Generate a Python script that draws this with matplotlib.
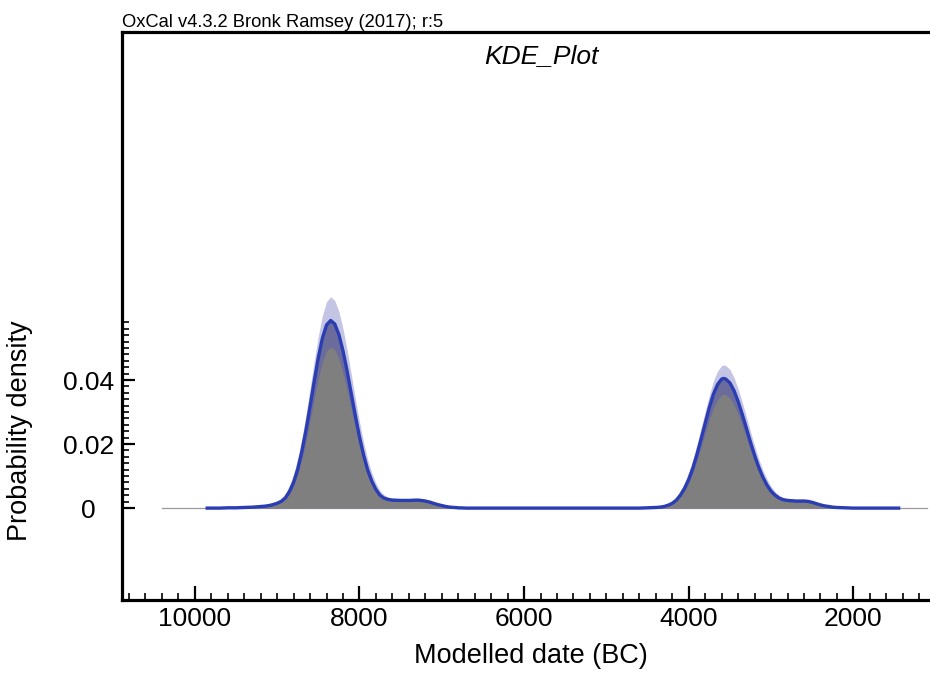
import matplotlib
matplotlib.use("Agg")
import matplotlib.pyplot as plt
from matplotlib.ticker import MultipleLocator, FixedLocator
import numpy as np

plt.rcParams['font.family'] = ['Liberation Sans', 'DejaVu Sans']

# Modelled dates (BC)
DATES = [9850, 9700, 9600, 9500, 9400, 9300, 9200, 9150, 9100, 9050,
         9000, 8950, 8900, 8850, 8800, 8750, 8700, 8650, 8600, 8550,
         8500, 8450, 8400, 8350, 8300, 8250, 8200, 8150, 8100, 8050,
         8000, 7950, 7900, 7850, 7800, 7750, 7700, 7650, 7600, 7500,
         7400, 7300, 7250, 7200, 7150, 7100, 7050, 7000, 6950, 6900,
         6800, 6700,
         4600, 4500, 4400, 4350, 4300, 4250, 4200, 4150, 4100, 4050,
         4000, 3950, 3900, 3850, 3800, 3750, 3700, 3650, 3600, 3575,
         3550, 3500, 3450, 3400, 3350, 3300, 3250, 3200, 3150, 3100,
         3050, 3000, 2950, 2900, 2850, 2800, 2750, 2700, 2650, 2600,
         2550, 2500, 2450, 2400, 2350, 2300, 2250, 2200, 2100, 2000,
         1450]

# mean KDE (blue line)
KDE_MEAN = [0, 0, .0001, .0001, .0002, .0003, .0005, .0006, .0008, .0011,
            .0015, .0021, .0032, .0052, .0081, .0122, .0177, .0243, .0318, .0396,
            .0470, .0531, .0572, .0586, .0575, .0542, .0491, .0428, .0358, .0289,
            .0223, .0166, .0119, .0084, .0058, .0040, .0031, .0027, .0025, .0024,
            .0024, .0025, .0024, .0022, .0019, .0015, .0011, .0008, .0005, .0003,
            .0001, 0,
            0, .0001, .0002, .0003, .0005, .0009, .0015, .0025, .0041, .0062,
            .0090, .0125, .0168, .0216, .0265, .0314, .0356, .0386, .0403, .0405,
            .0403, .0391, .0367, .0333, .0293, .0250, .0206, .0165, .0128, .0097,
            .0072, .0053, .0040, .0031, .0026, .0024, .0023, .0022, .0022, .0022,
            .0021, .0018, .0014, .0010, .0007, .0005, .0003, .0002, .0001, 0,
            0]

# upper edge of the variability band
KDE_UPPER = [0, 0, .0001, .0001, .0002, .0004, .0006, .0008, .0011, .0015,
             .0021, .0031, .0045, .0070, .0106, .0155, .0218, .0292, .0375, .0459,
             .0538, .0602, .0645, .0660, .0648, .0614, .0560, .0494, .0418, .0343,
             .0270, .0206, .0151, .0110, .0078, .0054, .0041, .0034, .0031, .0030,
             .0030, .0031, .0030, .0028, .0024, .0019, .0014, .0010, .0006, .0004,
             .0001, 0,
             0, .0001, .0003, .0005, .0008, .0014, .0021, .0034, .0054, .0079,
             .0111, .0151, .0198, .0250, .0302, .0353, .0397, .0428, .0445, .0447,
             .0445, .0433, .0408, .0373, .0331, .0286, .0239, .0195, .0154, .0119,
             .0091, .0068, .0051, .0040, .0033, .0030, .0029, .0028, .0028, .0028,
             .0027, .0023, .0018, .0013, .0009, .0006, .0004, .0002, .0001, 0,
             0]

# KDE distribution (grey fill)
KDE_DIST = [0, 0, .0001, .0001, .0002, .0003, .0004, .0005, .0007, .0009,
            .0013, .0018, .0028, .0045, .0070, .0105, .0152, .0209, .0273, .0341,
            .0404, .0457, .0492, .0504, .0495, .0466, .0422, .0368, .0308, .0249,
            .0192, .0143, .0102, .0072, .0050, .0034, .0027, .0023, .0021, .0021,
            .0021, .0022, .0021, .0019, .0016, .0013, .0009, .0007, .0004, .0003,
            .0001, 0,
            0, .0001, .0002, .0003, .0004, .0008, .0013, .0022, .0036, .0054,
            .0079, .0110, .0148, .0190, .0233, .0276, .0313, .0339, .0354, .0356,
            .0354, .0344, .0323, .0293, .0258, .0220, .0181, .0145, .0113, .0085,
            .0063, .0047, .0035, .0027, .0023, .0021, .0020, .0019, .0019, .0019,
            .0018, .0016, .0012, .0009, .0006, .0004, .0003, .0002, .0001, 0,
            0]

BASELINE_SPAN = [10400, 1100]

X_TICKS = [10000, 8000, 6000, 4000, 2000]
Y_TICKS = [0, 0.02, 0.04]
Y_TICK_LABELS = ['0', '0.02', '0.04']

fig = plt.figure(figsize=(9.30, 6.73), dpi=100)
ax = fig.add_axes([122 / 930, 1 - 600 / 673, 1 - 122 / 930 + 0.01, (600 - 32) / 673])

ax.plot(BASELINE_SPAN, [0, 0], color='#9a9a9a', lw=0.9, zorder=1)
ax.fill_between(DATES, 0, KDE_UPPER, color='#c4c4e4', lw=0, zorder=2)
ax.fill_between(DATES, 0, KDE_MEAN, color='#6c6c9c', lw=0, zorder=3)
ax.fill_between(DATES, 0, KDE_DIST, color='#7f7f7f', lw=0, zorder=4)
ax.plot(DATES, KDE_MEAN, color='#2b3db3', lw=2.4, zorder=5, solid_joinstyle='round')

ax.set_xlim(10885, 956)
ax.set_ylim(-0.0287, 0.1487)

ax.xaxis.set_major_locator(FixedLocator(X_TICKS))
ax.xaxis.set_minor_locator(MultipleLocator(200))
ax.set_xticklabels([str(v) for v in X_TICKS])
ax.yaxis.set_major_locator(FixedLocator(Y_TICKS))
ax.yaxis.set_minor_locator(FixedLocator(list(np.arange(0, 0.0585, 0.002))))
ax.set_yticklabels(Y_TICK_LABELS)

ax.tick_params(axis='x', which='both', direction='in', top=False, labelsize=19, pad=5)
ax.tick_params(axis='x', which='major', length=10, width=1.6)
ax.tick_params(axis='x', which='minor', length=5, width=1.2)
ax.tick_params(axis='y', which='both', direction='in', right=False, labelsize=19, pad=24)
ax.tick_params(axis='y', which='major', length=9, width=1.6)
ax.tick_params(axis='y', which='minor', length=5, width=1.2)
for lab in ax.get_yticklabels():
    lab.set_horizontalalignment('center')

for side in ['left', 'bottom', 'top']:
    ax.spines[side].set_linewidth(2.3)
ax.spines['right'].set_visible(False)

ax.set_xlabel('Modelled date (BC)', fontsize=19.5, labelpad=9)
ax.set_ylabel('Probability density', fontsize=19.5)
# OxCal puts the y label level with the tick block, not the axes centre
ax.yaxis.set_label_coords(-0.109, 0.2975)

fig.text(122 / 930, 1 - 27 / 673, 'OxCal v4.3.2 Bronk Ramsey (2017); r:5',
         fontsize=13.2, ha='left', va='baseline')
fig.text(541 / 930, 1 - 56 / 673, 'KDE_Plot', fontsize=19, style='italic',
         ha='center', va='center')

fig.savefig('out.png', dpi=100)
